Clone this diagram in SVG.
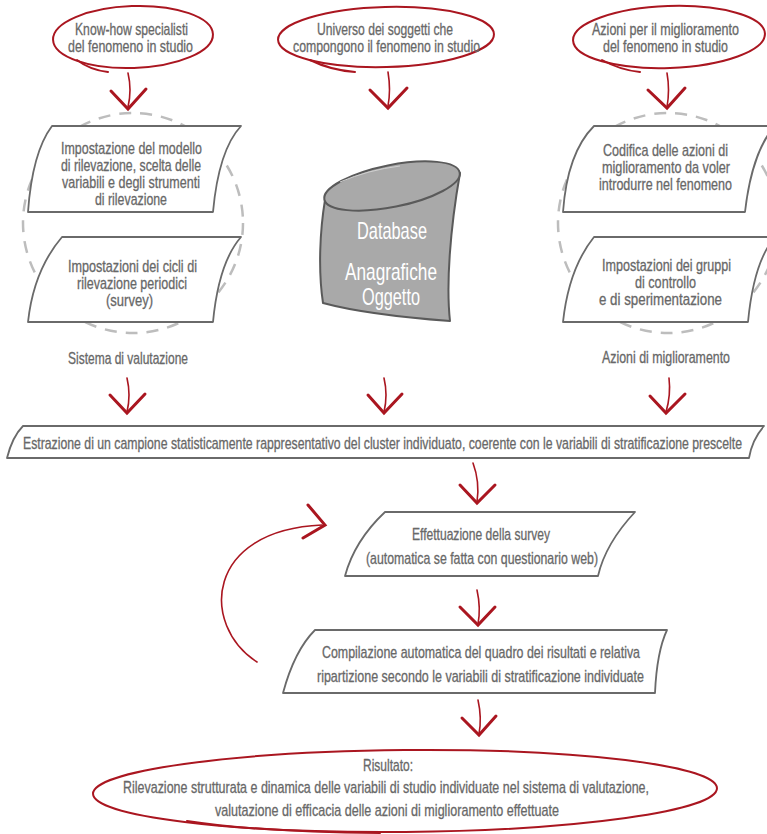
<svg xmlns="http://www.w3.org/2000/svg" width="767" height="834" viewBox="0 0 767 834">
<defs>
<style>
.t{font-family:"Liberation Sans","DejaVu Sans",sans-serif;font-size:16px;fill:#686868;stroke:#686868;stroke-width:0.3;text-anchor:middle;transform:scale(0.72,1)}
.ts{text-anchor:start}
.db{font-family:"Liberation Sans","DejaVu Sans",sans-serif;font-size:23px;fill:#ffffff;text-anchor:middle;transform:scale(0.72,1)}
.red{fill:none;stroke:#aa1620;stroke-width:2;stroke-linecap:round;stroke-linejoin:round}
.stem{fill:none;stroke:#aa1620;stroke-width:1.6;stroke-linecap:round}
.head{fill:none;stroke:#aa1620;stroke-width:3;stroke-linecap:round;stroke-linejoin:miter}
.box{fill:#ffffff;stroke:#6a6a6a;stroke-width:1.8;stroke-linejoin:round}
.dash{fill:none;stroke:#bdbdbd;stroke-width:2.5;stroke-dasharray:12 9}
</style>
</defs>
<rect width="767" height="834" fill="#ffffff"/>

<circle class="dash" cx="133" cy="223" r="110"/>
<circle class="dash" cx="668" cy="223" r="110"/>

<g id="knowhow">
<ellipse class="red" cx="133" cy="37" rx="80" ry="31" transform="rotate(-2 133 37)"/>
<path class="red" d="M77,60 Q90,70 108,72"/>
<text class="t" x="182.64" y="35" textLength="156.94" lengthAdjust="spacingAndGlyphs">Know-how specialisti</text>
<text class="t" x="181.25" y="52" textLength="173.61" lengthAdjust="spacingAndGlyphs">del fenomeno in studio</text>
</g>

<g id="universo">
<ellipse class="red" cx="386" cy="37" rx="108" ry="30" transform="rotate(-1.5 386 37)"/>
<path class="red" d="M310,60 Q330,70 355,72"/>
<text class="t" x="534.72" y="35" textLength="188.89" lengthAdjust="spacingAndGlyphs">Universo dei soggetti che</text>
<text class="t" x="536.81" y="52" textLength="259.72" lengthAdjust="spacingAndGlyphs">compongono il fenomeno in studio</text>
</g>

<g id="azioni">
<ellipse class="red" cx="669" cy="37" rx="96" ry="31" transform="rotate(-2 669 37)"/>
<path class="red" d="M602,60 Q620,70 640,72"/>
<text class="t" x="924.31" y="35" textLength="204.17" lengthAdjust="spacingAndGlyphs">Azioni per il miglioramento</text>
<text class="t" x="924.31" y="52" textLength="173.61" lengthAdjust="spacingAndGlyphs">del fenomeno in studio</text>
</g>

<g id="impostazione-modello">
<path class="box" d="M52,126 L241,126 C228,140 217,168 213,212 L28,212 C31,170 40,142 52,126 Z"/>
<text class="t" x="182.64" y="154" textLength="195.83" lengthAdjust="spacingAndGlyphs">Impostazione del modello</text>
<text class="t" x="181.94" y="171" textLength="194.44" lengthAdjust="spacingAndGlyphs">di rilevazione, scelta delle</text>
<text class="t" x="181.94" y="188" textLength="191.67" lengthAdjust="spacingAndGlyphs">variabili e degli strumenti</text>
<text class="t" x="181.94" y="205" textLength="100" lengthAdjust="spacingAndGlyphs">di rilevazione</text>
</g>

<g id="impostazioni-cicli">
<path class="box" d="M62,237 L241,237 C228,252 217,280 213,322 L28,322 C32,285 45,257 62,237 Z"/>
<text class="t" x="184.03" y="272" textLength="179.17" lengthAdjust="spacingAndGlyphs">Impostazioni dei cicli di</text>
<text class="t" x="183.33" y="289" textLength="152.78" lengthAdjust="spacingAndGlyphs">rilevazione periodici</text>
<text class="t" x="179.86" y="306" textLength="65.28" lengthAdjust="spacingAndGlyphs">(survey)</text>
</g>

<g id="sistema-valutazione">
<text class="t" x="177.78" y="364" textLength="166.67" lengthAdjust="spacingAndGlyphs">Sistema di valutazione</text>
</g>

<g id="database">
<path d="M325,200 C320,230 318,270 323,303 C360,313 410,318 450,321 C446,285 450,230 460,173 Z" fill="#a9a9a9" stroke="#5a5a5a" stroke-width="2" stroke-linejoin="round"/>
<ellipse cx="392" cy="186" rx="69" ry="21" transform="rotate(-11.3 392 186)" fill="#a9a9a9" stroke="#5a5a5a" stroke-width="2"/>
<path d="M340,182 Q368,170 400,166" fill="none" stroke="#d0d0d0" stroke-width="1"/>
<text class="db" x="544.44" y="239" textLength="97.22" lengthAdjust="spacingAndGlyphs">Database</text>
<text class="db" x="543.06" y="280" textLength="127.78" lengthAdjust="spacingAndGlyphs">Anagrafiche</text>
<text class="db" x="543.06" y="305" textLength="80.56" lengthAdjust="spacingAndGlyphs">Oggetto</text>
</g>

<g id="codifica-azioni">
<path class="box" d="M594,126 L775,126 C762,140 750,168 745,212 L563,212 C566,170 578,142 594,126 Z"/>
<text class="t" x="924.31" y="156" textLength="173.61" lengthAdjust="spacingAndGlyphs">Codifica delle azioni di</text>
<text class="t" x="925" y="173" textLength="177.78" lengthAdjust="spacingAndGlyphs">miglioramento da voler</text>
<text class="t" x="924.31" y="190" textLength="184.72" lengthAdjust="spacingAndGlyphs">introdurre nel fenomeno</text>
</g>

<g id="impostazioni-gruppi">
<path class="box" d="M594,237 L775,237 C762,252 752,280 748,322 L563,322 C567,285 578,257 594,237 Z"/>
<text class="t" x="925.69" y="271" textLength="179.17" lengthAdjust="spacingAndGlyphs">Impostazioni dei gruppi</text>
<text class="t" x="924.31" y="288" textLength="84.72" lengthAdjust="spacingAndGlyphs">di controllo</text>
<text class="t" x="917.36" y="305" textLength="170.83" lengthAdjust="spacingAndGlyphs">e di sperimentazione</text>
</g>

<g id="azioni-miglioramento">
<text class="t" x="925" y="363" textLength="177.78" lengthAdjust="spacingAndGlyphs">Azioni di miglioramento</text>
</g>

<g id="estrazione">
<path class="box" d="M23,426 L764,426 C757,434 751,446 749,458 L7,458 C10,446 15,434 23,426 Z"/>
<text class="t ts" x="31.94" y="449" textLength="998.61" lengthAdjust="spacingAndGlyphs">Estrazione di un campione statisticamente rappresentativo del cluster individuato, coerente con le variabili di stratificazione prescelte</text>
</g>

<g id="effettuazione">
<path class="box" d="M385,512 L635,512 C620,528 604,550 598,576 L345,576 C352,550 368,528 385,512 Z"/>
<text class="t" x="668.06" y="540" textLength="191.67" lengthAdjust="spacingAndGlyphs">Effettuazione della survey</text>
<text class="t" x="669.44" y="564" textLength="322.22" lengthAdjust="spacingAndGlyphs">(automatica se fatta con questionario web)</text>
</g>

<g id="compilazione">
<path class="box" d="M315,630 L667,630 C660,645 656,670 655,693 L283,693 C290,667 300,645 315,630 Z"/>
<text class="t" x="668.06" y="658" textLength="441.67" lengthAdjust="spacingAndGlyphs">Compilazione automatica del quadro dei risultati e relativa</text>
<text class="t" x="667.36" y="682" textLength="454.17" lengthAdjust="spacingAndGlyphs">ripartizione secondo le variabili di stratificazione individuate</text>
</g>

<g id="risultato">
<ellipse class="red" cx="405" cy="791" rx="312" ry="41" transform="rotate(-0.5 405 791)"/>
<path class="red" d="M187,821 Q260,832 380,833"/>
<text class="t" x="538.89" y="771" textLength="69.44" lengthAdjust="spacingAndGlyphs">Risultato:</text>
<text class="t" x="536.11" y="793" textLength="730.56" lengthAdjust="spacingAndGlyphs">Rilevazione strutturata e dinamica delle variabili di studio individuate nel sistema di valutazione,</text>
<text class="t" x="537.5" y="816" textLength="477.78" lengthAdjust="spacingAndGlyphs">valutazione di efficacia delle azioni di miglioramento effettuate</text>
</g>

<g id="connectors">
<path class="stem" d="M128,73 Q132,90 128,107"/>
<polyline class="head" points="111,91 128,109 146,89"/>
<path class="stem" d="M388,72 Q391,90 388,106"/>
<polyline class="head" points="370,90 388,108 407,88"/>
<path class="stem" d="M667,73 Q670,90 667,107"/>
<polyline class="head" points="648,90 667,108 685,88"/>

<path class="stem" d="M127,378 Q131,395 127,412"/>
<polyline class="head" points="110,395 127,413 145,394"/>
<path class="stem" d="M384,378 Q388,395 384,412"/>
<polyline class="head" points="368,395 384,413 402,394"/>
<path class="stem" d="M669,378 Q671,395 666,412"/>
<polyline class="head" points="650,396 666,413 685,394"/>

<path class="stem" d="M473,463 Q480,482 477,502"/>
<polyline class="head" points="460,485 477,503 495,485"/>
<path class="stem" d="M477,590 Q481,608 478,624"/>
<polyline class="head" points="460,607 478,625 495,607"/>
<path class="stem" d="M478,700 Q482,718 479,734"/>
<polyline class="head" points="462,718 479,735 496,716"/>

<path class="stem" d="M257,662 C200,625 205,530 322,525"/>
<polyline class="head" points="308,505 325,525 303,538"/>
</g>
</svg>
